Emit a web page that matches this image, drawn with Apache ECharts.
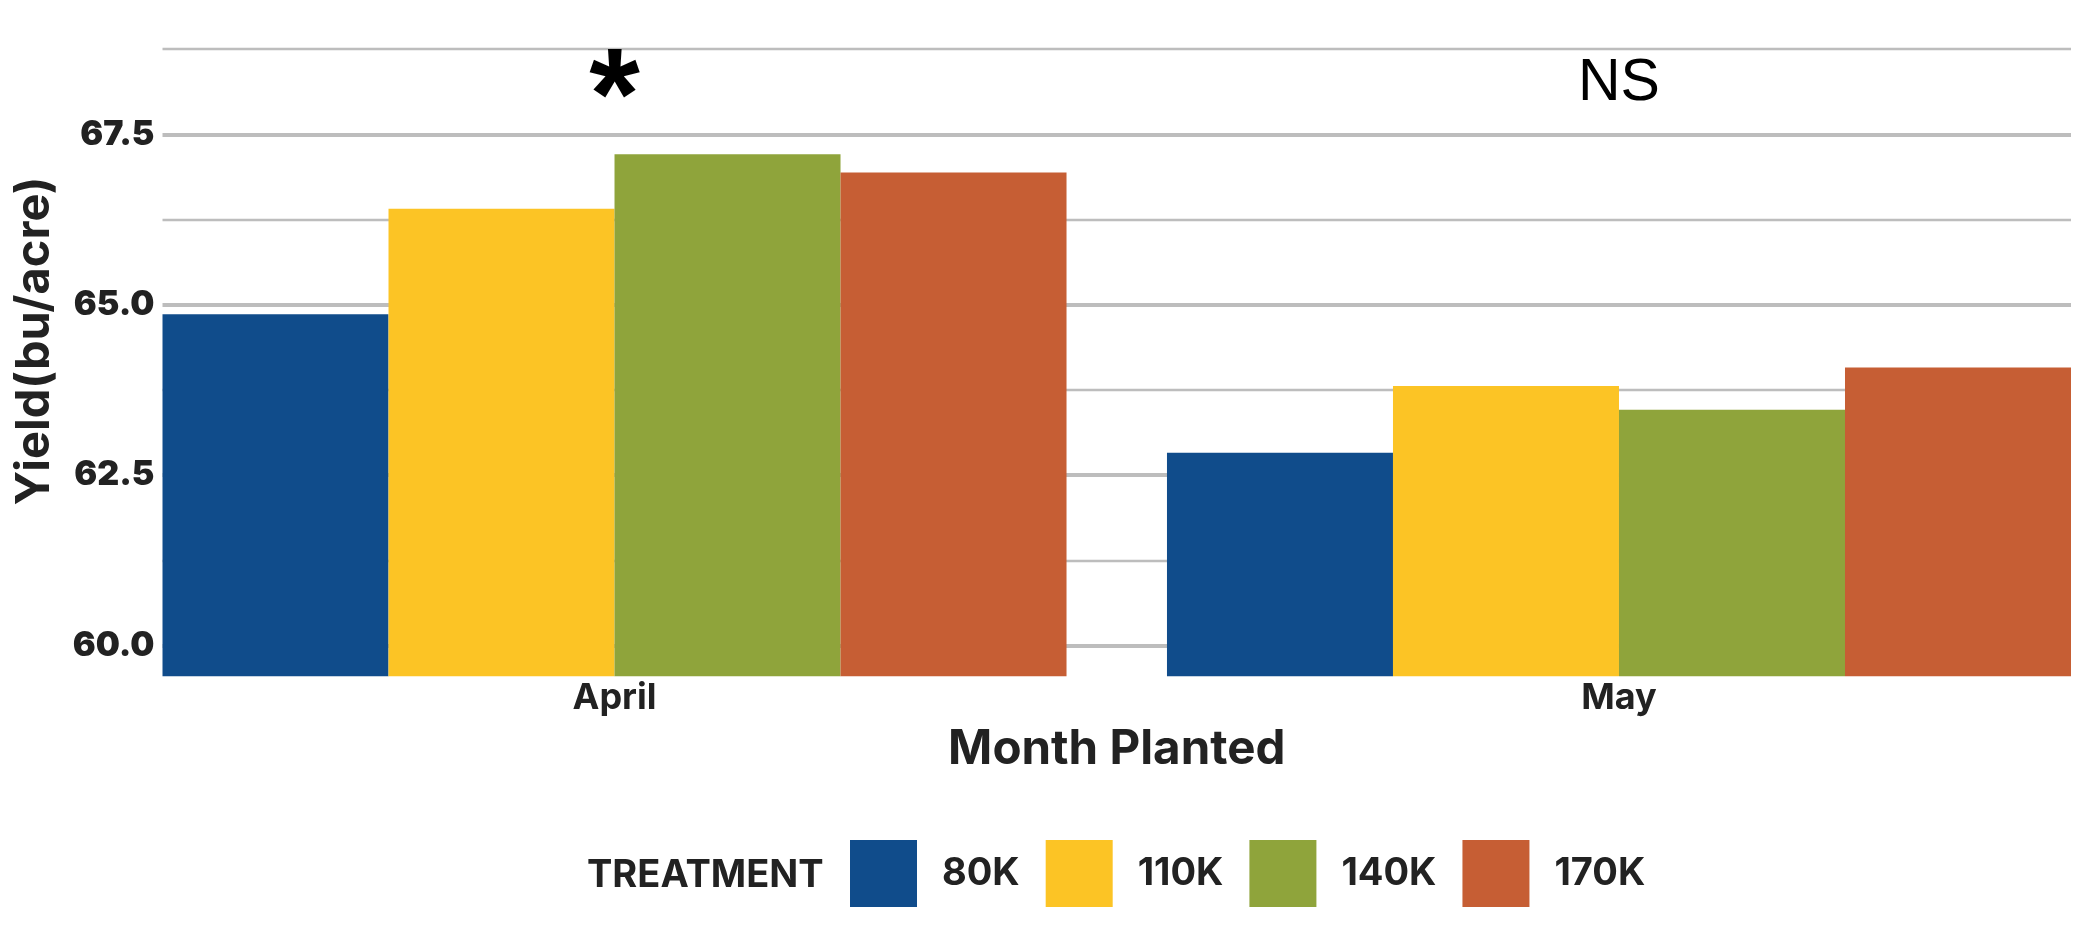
<!DOCTYPE html>
<html>
<head>
<meta charset="utf-8">
<script src="https://cdn.jsdelivr.net/npm/echarts@6/dist/echarts.min.js"></script>
<style>html,body{margin:0;padding:0;background:#fff;}#c{width:2088px;height:946px;}</style>
</head>
<body>
<div id="c"></div>
<script>
// ---- data ----
const months = ['April', 'May'];
const treatments = ['80K', '110K', '140K', '170K'];
const yield80K = [64.86, 62.83];
const yield110K = [66.41, 63.81];
const yield140K = [67.21, 63.46];
const yield170K = [66.94, 64.08];
const yMajorTicks = [60.0, 62.5, 65.0, 67.5];
const yMinorTicks = [61.25, 63.75, 66.25, 68.75];
const annotations = ['*', 'NS'];
const annotationY = [68.4, 68.4];

// ---- styles ----
const colors = ['#104C8B', '#FCC425', '#8FA43B', '#C65E34'];
const txt = '#222222';
const font = 'Inter';
const yMin = 59.55, yMax = 69.1;
const xMin = 0.55, xMax = 2.45;

const seriesValues = [yield80K, yield110K, yield140K, yield170K];
const pos = months.map((m, i) => i + 1);

const annStyles = [
  { fontFamily: 'Liberation Sans', fontWeight: 'bold', fontSize: 130, offset: [0, 30] },
  { fontFamily: 'Liberation Sans', fontWeight: 'normal', fontSize: 59, offset: [0, 11] }
];

const chart = echarts.init(document.getElementById('c'), null, { renderer: 'canvas' });

const yCommon = {
  type: 'value', min: yMin, max: yMax, position: 'left',
  axisLine: { show: false }
};

chart.setOption({
  animation: false,
  color: colors,
  grid: { left: 162.5, right: 17, top: 25.3, bottom: 269.7, containLabel: false, outerBoundsMode: 'none' },
  xAxis: {
    type: 'value', min: xMin, max: xMax,
    axisLine: { show: false },
    axisTick: { show: false, customValues: pos },
    splitLine: { show: false },
    axisLabel: {
      customValues: pos,
      formatter: v => months[Math.round(v) - 1],
      fontFamily: font, fontWeight: 'bold', fontSize: 36, color: txt, margin: 4
    },
    name: 'Month Planted', nameLocation: 'middle', nameGap: 49,
    nameTextStyle: { fontFamily: font, fontWeight: 'bold', fontSize: 47.5, color: txt }
  },
  yAxis: [
    Object.assign({}, yCommon, {
      axisTick: { show: false, customValues: yMajorTicks },
      axisLabel: {
        customValues: yMajorTicks,
        formatter: v => v.toFixed(1),
        fontFamily: font, fontWeight: 900, fontSize: 34, color: txt, margin: 8
      },
      splitLine: { show: true, lineStyle: { color: '#BDBDBD', width: 4 } },
      name: 'Yield(bu/acre)', nameLocation: 'middle', nameGap: 104,
      nameTextStyle: { fontFamily: font, fontWeight: 'bold', fontSize: 47, color: txt, padding: [0, 0, 0, 20] }
    }),
    Object.assign({}, yCommon, {
      axisTick: { show: false, customValues: yMinorTicks },
      axisLabel: { show: false },
      splitLine: { show: true, lineStyle: { color: '#BDBDBD', width: 2.3 } }
    })
  ],
  legend: {
    data: treatments,
    left: 850, top: 840, padding: 0,
    itemWidth: 67, itemHeight: 67, itemGap: 26,
    icon: 'rect',
    textStyle: { fontFamily: font, fontWeight: 'bold', fontSize: 38, color: txt, padding: [0, 0, 0, 20] }
  },
  graphic: [{
    type: 'text', left: 587, top: 857,
    style: { text: 'TREATMENT', fontFamily: font, fontWeight: 'bold', fontSize: 38, fill: txt }
  }],
  series: treatments.map((t, k) => ({
    name: t, type: 'bar', yAxisIndex: 0,
    barGap: '0%', barCategoryGap: '10%',
    data: pos.map((p, i) => [p, seriesValues[k][i]]),
    itemStyle: { color: colors[k] },
    z: 3
  })).concat([{
    type: 'scatter', yAxisIndex: 0, silent: true, symbolSize: 0,
    itemStyle: { color: '#000000' },
    data: annotations.map((a, i) => ({
      value: [pos[i], annotationY[i]],
      label: Object.assign({
        show: true, position: 'inside', formatter: a,
        color: '#000000', textBorderWidth: 0, opacity: 1
      }, annStyles[i])
    })),
    z: 5
  }])
});
</script>
</body>
</html>
